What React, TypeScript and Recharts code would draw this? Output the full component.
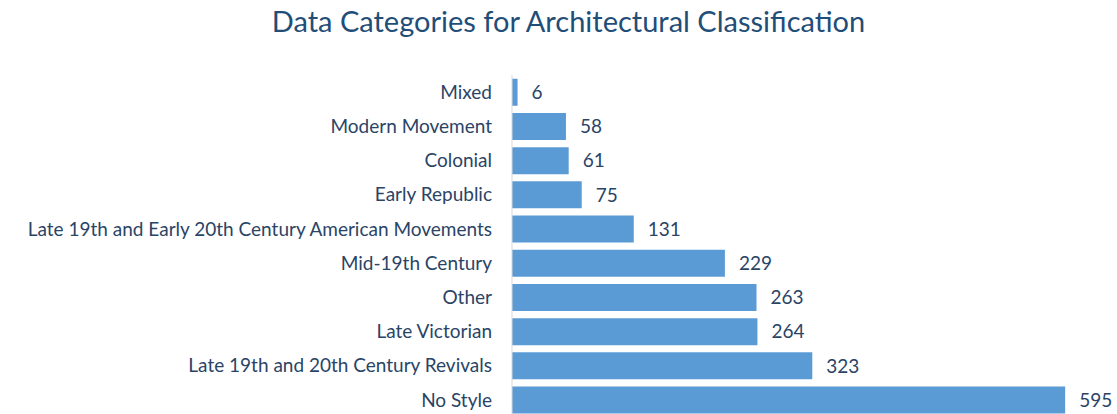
import { Bar, BarChart, LabelList, XAxis, YAxis } from "recharts";

const categories = [
  "Mixed",
  "Modern Movement",
  "Colonial",
  "Early Republic",
  "Late 19th and Early 20th Century American Movements",
  "Mid-19th Century",
  "Other",
  "Late Victorian",
  "Late 19th and 20th Century Revivals",
  "No Style",
];
const counts = [6, 58, 61, 75, 131, 229, 263, 264, 323, 595];

const rows = categories.map((name, i) => ({ name, count: counts[i] }));

const FONT = "Lato, 'Open Sans', sans-serif";
const TEXT = "#2a4466";

export default function App() {
  return (
    <div
      style={{
        position: "fixed",
        top: 0,
        left: 0,
        width: 1117,
        height: 414,
        overflow: "hidden",
        background: "#fff",
      }}
    >
      <div
        style={{
          position: "absolute",
          top: 3,
          left: 20,
          width: 1097,
          textAlign: "center",
          fontFamily: FONT,
          fontSize: 29,
          color: "#1f4e79",
        }}
      >
        Data Categories for Architectural Classification
      </div>
      <BarChart
        width={1117}
        height={417}
        data={rows}
        layout="vertical"
        margin={{ top: 75, right: 10, left: 0, bottom: 0 }}
        barCategoryGap="11%"
      >
        <XAxis type="number" domain={[0, 640]} hide />
        <YAxis
          type="category"
          dataKey="name"
          width={512}
          interval={0}
          tickLine={false}
          tickSize={0}
          tickMargin={20}
          axisLine={{ stroke: "#d9d9d9" }}
          tick={{ fontSize: 19, fill: TEXT, fontFamily: FONT }}
        />
        <Bar dataKey="count" fill="#5b9bd5" isAnimationActive={false}>
          <LabelList dataKey="count" position="right" offset={14} style={{ fontSize: 19, fill: TEXT, fontFamily: FONT }} />
        </Bar>
      </BarChart>
    </div>
  );
}
